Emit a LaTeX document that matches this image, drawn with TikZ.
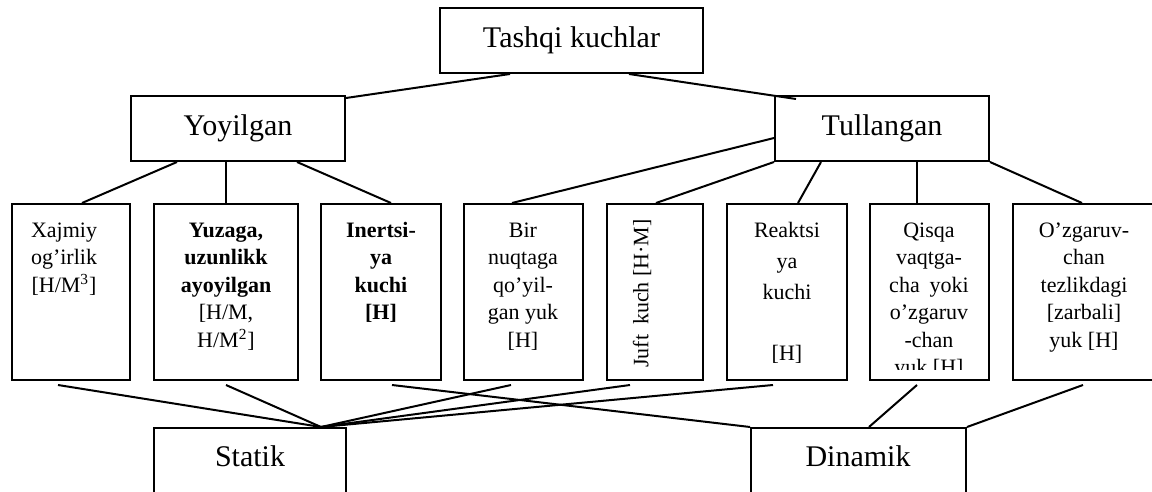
\documentclass[tikz,border=0pt]{standalone}
\usepackage{fontspec}
\setmainfont{Liberation Serif}
\usetikzlibrary{calc,fit}
\newcommand\firststrut{\rule{0pt}{9pt}}
\begin{document}
\begin{tikzpicture}[x=0.5pt,y=-0.5pt,
  box/.style={draw, line width=1pt, inner sep=0pt},
  con/.style={line width=1pt},
  big/.style={font=\fontsize{15}{17}\selectfont, inner sep=0pt},
  txt/.style={font=\fontsize{11}{13.75}\selectfont, align=center, anchor=north, inner sep=0pt},
]
\useasboundingbox (0,0) rectangle (1152,492);
\clip (0,0) rectangle (1152,492);
\fill[white] (0,0) rectangle (1152,492);

% top levels
\node[box, fit={(440,8) (703,73)}] (tk) {};
\node[box, fit={(131,96) (345,161)}] (yoy) {};
\node[box, fit={(775,96) (989,161)}] (tul) {};
\node[big] (tkt) at (tk.center) {Tashqi kuchlar};
\node[big] (yoyt) at (yoy.center) {Yoyilgan};
\node[big] (tult) at (tul.center) {Tullangan};

% middle boxes
\node[box, fit={(12,204) (130,380)}] (b1) {};
\node[box, fit={(154,204) (298,380)}] (b2) {};
\node[box, fit={(321,204) (441,380)}] (b3) {};
\node[box, fit={(464,204) (583,380)}] (b4) {};
\node[box, fit={(607,204) (703,380)}] (b5) {};
\node[box, fit={(727,204) (847,380)}] (b6) {};
\node[box, fit={(870,204) (989,380)}] (b7) {};
\node[box, fit={(1013,204) (1156,380)}] (b8) {};

% bottom boxes
\node[box, fit={(154,428) (346,512)}] (st) {};
\node[box, fit={(751,428) (966,512)}] (dn) {};
\node[big] (stt) at (250,456) {Statik};
\node[big] (dnt) at (858,456) {Dinamik};

% texts of middle boxes
\node[txt] (t1) at (64,219) {\firststrut Xajmiy\\og’irlik\\{}[H/M\textsuperscript{3}]};
\node[txt] (t2) at (226,219) {\firststrut\textbf{Yuzaga,}\\\textbf{uzunlikk}\\\textbf{ayoyilgan}\\{}[H/M,\\H/M\textsuperscript{2}]};
\node[txt, font=\fontsize{11}{13.75}\selectfont\bfseries] (t3) at (381,219) {\firststrut Inertsi-\\ya\\kuchi\\{}[H]};
\node[txt] (t4) at (523,219) {\firststrut Bir\\nuqtaga\\qo’yil-\\gan yuk\\{}[H]};
\node[font=\fontsize{11}{13.75}\selectfont, inner sep=0pt, rotate=90] (t5) at (642,293.5) {Juft\hspace{0.45em}kuch [H·M]};
\node[txt, font=\fontsize{11}{15.4}\selectfont] (t6) at (787,219) {\firststrut Reaktsi\\ya\\kuchi\\\mbox{}\\{}[H]};
\begin{scope}
\clip (870,204) rectangle (989,369);
\node[txt] (t7) at (929,219) {\firststrut Qisqa\\vaqtga-\\cha\hspace{0.45em}yoki\\o’zgaruv\\-chan\\yuk [H]};
\end{scope}
\node[txt] (t8) at (1084,219) {\firststrut O’zgaruv-\\chan\\tezlikdagi\\{}[zarbali]\\yuk [H]};

% connectors top
\draw[con] ($(tk.south west)+(71,0)$) -- ($(yoy.north east)+(0,3)$);
\draw[con] ($(tk.south west)+(190,0)$) -- ($(tul.north west)+(22,4)$);
\draw[con] ($(yoy.south west)+(47,0)$) -- ($(b1.north west)+(71,0)$);
\draw[con] ($(yoy.south west)+(96,0)$) -- ($(b2.north west)+(73,0)$);
\draw[con] ($(yoy.south west)+(167,0)$) -- ($(b3.north west)+(71,0)$);
\draw[con] ($(tul.north west)+(0,43)$) -- ($(b4.north west)+(49,0)$);
\draw[con] (tul.south west) -- ($(b5.north west)+(50,0)$);
\draw[con] ($(tul.south west)+(47,0)$) -- ($(b6.north west)+(72,0)$);
\draw[con] ($(tul.south west)+(143,0)$) -- ($(b7.north west)+(48,0)$);
\draw[con] (tul.south east) -- ($(b8.north west)+(70,0)$);

% connectors bottom
\coordinate (sj) at ($(st.north west)+(168,0)$);
\draw[con] ($(b1.south west)+(47,4)$) -- (sj);
\draw[con] ($(b2.south west)+(73,4)$) -- (sj);
\draw[con] ($(b4.south west)+(48,4)$) -- (sj);
\draw[con] ($(b5.south west)+(24,4)$) -- (sj);
\draw[con] ($(b6.south west)+(47,4)$) -- (sj);
\draw[con] ($(b3.south west)+(72,4)$) -- (dn.north west);
\draw[con] ($(b7.south west)+(48,4)$) -- ($(dn.north west)+(119,0)$);
\draw[con] ($(b8.south west)+(71,4)$) -- (dn.north east);
\end{tikzpicture}
\end{document}
